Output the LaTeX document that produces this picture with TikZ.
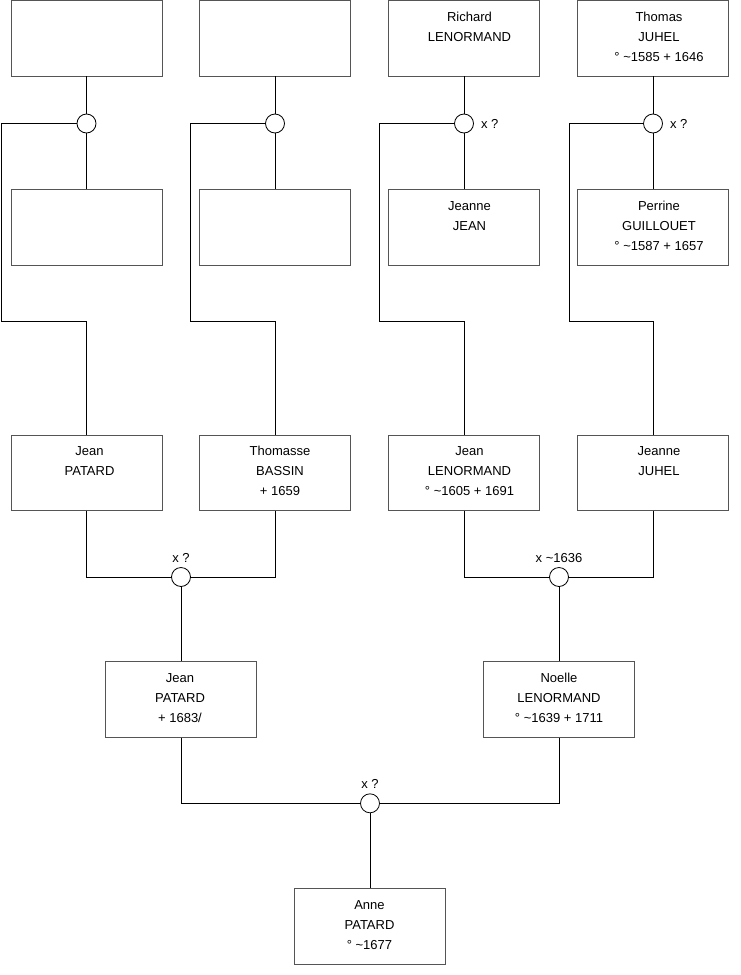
\documentclass[tikz,border=0pt]{standalone}
\usepackage{fontspec}
\setmainfont{Liberation Sans}
\definecolor{boxgray}{HTML}{555555}
\begin{document}
\begin{tikzpicture}[x=1pt,y=-1pt,
  person/.style={draw=boxgray, line width=0.9pt, minimum width=151pt, minimum height=75.5pt, inner sep=0pt},
  ptext/.style={anchor=base, align=center, inner sep=0pt, font=\fontsize{13}{20}\selectfont},
  union/.style={circle, draw=black, line width=0.8pt, minimum size=19pt, inner sep=0pt, fill=white},
  link/.style={draw=black, line width=0.8pt},
  ulabel/.style={inner sep=0pt, font=\fontsize{13}{16}\selectfont}]
\useasboundingbox (0,0) rectangle (740,975);
% row 1
\node[person] (p1) at (86.5,38.2) {};
\node[person] (p2) at (275,38.2) {};
\node[person] (p3) at (464,38.2) {};
\node[person] (p4) at (653,38.2) {};
% row 2
\node[person] (p5) at (86.5,227.3) {};
\node[person] (p6) at (275,227.3) {};
\node[person] (p7) at (464,227.3) {};
\node[person] (p8) at (653,227.3) {};
% row 3
\node[person] (p9) at (86.5,472.8) {};
\node[person] (p10) at (275,472.8) {};
\node[person] (p11) at (464,472.8) {};
\node[person] (p12) at (653,472.8) {};
% row 4
\node[person] (p13) at (181,699.4) {};
\node[person] (p14) at (559,699.4) {};
% row 5
\node[person] (p15) at (370,926.2) {};
% texts (base anchor = baseline of last line)
\node[ptext] (t3) at ([xshift=5.5pt,yshift=-41pt]p3.north) {Richard\\LENORMAND};
\node[ptext] (t4) at ([xshift=6pt,yshift=-61pt]p4.north) {Thomas\\JUHEL\\° \textasciitilde1585 + 1646};
\node[ptext] (t7) at ([xshift=5.5pt,yshift=-41pt]p7.north) {Jeanne\\JEAN};
\node[ptext] (t8) at ([xshift=6pt,yshift=-61pt]p8.north) {Perrine\\GUILLOUET\\° \textasciitilde1587 + 1657};
\node[ptext] (t9) at ([xshift=3pt,yshift=-41pt]p9.north) {Jean\\PATARD};
\node[ptext] (t10) at ([xshift=5pt,yshift=-61pt]p10.north) {Thomasse\\BASSIN\\+ 1659};
\node[ptext] (t11) at ([xshift=5.5pt,yshift=-61pt]p11.north) {Jean\\LENORMAND\\° \textasciitilde1605 + 1691};
\node[ptext] (t12) at ([xshift=6pt,yshift=-41pt]p12.north) {Jeanne\\JUHEL};
\node[ptext] (t13) at ([xshift=-1pt,yshift=-61pt]p13.north) {Jean\\PATARD\\+ 1683/};
\node[ptext] (t14) at ([yshift=-61pt]p14.north) {Noelle\\LENORMAND\\° \textasciitilde1639 + 1711};
\node[ptext] (t15) at ([xshift=-0.5pt,yshift=-61pt]p15.north) {Anne\\PATARD\\° \textasciitilde1677};
% unions
\node[union] (u1) at (86.5,123.5) {};
\node[union] (u2) at (275,123.5) {};
\node[union] (u3) at (464,123.5) {};
\node[union] (u4) at (653,123.5) {};
\node[union] (u5) at (181,577) {};
\node[union] (u6) at (559,577) {};
\node[union] (u7) at (370,803.3) {};
% union labels
\node[ulabel, anchor=west] (l3) at ([xshift=7pt]u3.east) {x ?};
\node[ulabel, anchor=west] (l4) at ([xshift=7pt]u4.east) {x ?};
\node[ulabel, anchor=base] (l5) at ([yshift=5pt]u5.north) {x ?};
\node[ulabel, anchor=base] (l6) at ([yshift=5pt]u6.north) {x \textasciitilde1636};
\node[ulabel, anchor=base] (l7) at ([yshift=5pt]u7.north) {x ?};
% bracket corners
\coordinate (k1a) at (1.5,123.5);  \coordinate (k1b) at (1.5,321.7);
\coordinate (k2a) at (190.5,123.5); \coordinate (k2b) at (190.5,321.7);
\coordinate (k3a) at (379.5,123.5); \coordinate (k3b) at (379.5,321.7);
\coordinate (k4a) at (569,123.5);  \coordinate (k4b) at (569,321.7);
% connectors top
\foreach \a/\u/\b in {p1/u1/p5, p2/u2/p6, p3/u3/p7, p4/u4/p8}{
  \draw[link] (\a.south) -- (\u.north);
  \draw[link] (\u.south) -- (\b.north);
}
\draw[link] (u1.west) -- (k1a) -- (k1b) -| (p9.north);
\draw[link] (u2.west) -- (k2a) -- (k2b) -| (p10.north);
\draw[link] (u3.west) -- (k3a) -- (k3b) -| (p11.north);
\draw[link] (u4.west) -- (k4a) -- (k4b) -| (p12.north);
% row 3 -> row 4
\draw[link] (p9.south) |- (u5.west);
\draw[link] (p10.south) |- (u5.east);
\draw[link] (u5.south) -- (p13.north);
\draw[link] (p11.south) |- (u6.west);
\draw[link] (p12.south) |- (u6.east);
\draw[link] (u6.south) -- (p14.north);
% row 4 -> row 5
\draw[link] (p13.south) |- (u7.west);
\draw[link] (p14.south) |- (u7.east);
\draw[link] (u7.south) -- (p15.north);
\end{tikzpicture}
\end{document}
